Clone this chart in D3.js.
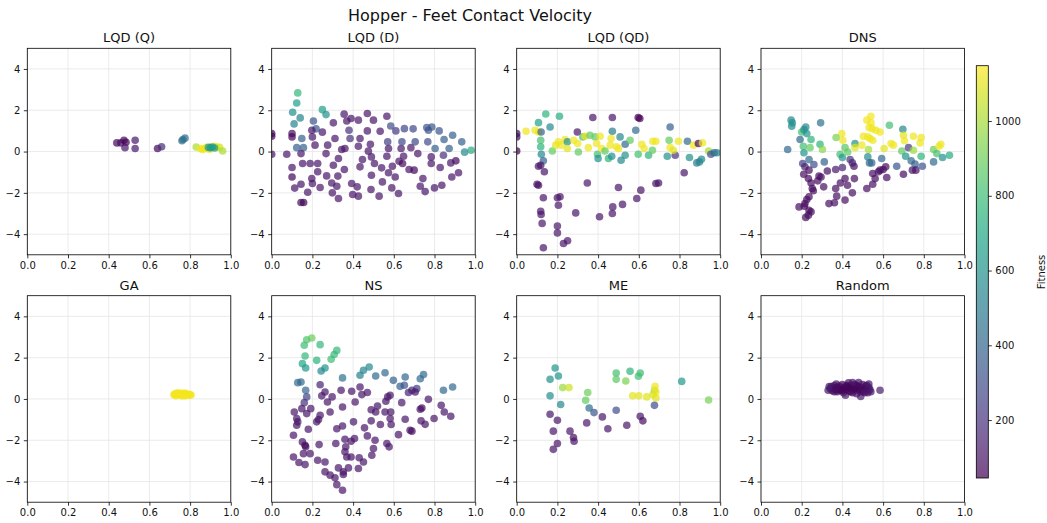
<!DOCTYPE html>
<html>
<head>
<meta charset="utf-8">
<script src="https://cdn.jsdelivr.net/npm/d3@7"></script>
<style>
  body { margin: 0; background: #fff; }
  text { font-family: "DejaVu Sans", sans-serif; fill: #111; }
</style>
</head>
<body>
<svg id="chart" width="1047" height="523"></svg>
<script>
// ---- data -------------------------------------------------------------
const chartTitle = "Hopper - Feet Contact Velocity";
const panelTitles = ["LQD (Q)", "LQD (D)", "LQD (QD)", "DNS", "GA", "NS", "ME", "Random"];
const xTicks = [0, 0.2, 0.4, 0.6, 0.8, 1.0];
const yTicks = [-4, -2, 0, 2, 4];
const cbTicks = [200, 400, 600, 800, 1000];
const fitnessRange = [45, 1148];
const colorbarLabel = "Fitness";

// each point: [feature 1, feature 2, fitness]
const lqdQ = [
  [0.44,0.42,60],[0.46,0.42,80],[0.475,0.55,60],[0.485,0.45,60],[0.48,0.19,120],[0.53,0.55,120],
  [0.53,0.15,120],[0.64,0.15,60],[0.66,0.23,180],[0.765,0.58,450],[0.775,0.65,450],[0.76,0.52,450],
  [0.83,0.22,1010],[0.85,0.15,1120],[0.87,0.13,1120],[0.88,0.2,1120],[0.9,0.22,1120],[0.92,0.26,1120],
  [0.93,0.22,1120],[0.945,0.2,1070],[0.96,0.03,1010],[0.86,0.1,1120],[0.895,0.1,1120],
  [0.89,0.2,650],[0.9,0.18,650],[0.91,0.22,650],[0.92,0.17,650]
];

const lqdD = [
  [0.0,0.87,60],[0.0,0.74,60],[0.0,-0.13,110],[0.074,-0.13,110],
  [0.128,2.84,780],[0.123,2.35,660],[0.103,1.9,580],[0.11,1.34,540],[0.14,1.63,540],
  [0.10,0.87,80],[0.10,0.71,60],[0.148,0.63,380],[0.123,0.19,380],[0.156,0.19,380],
  [0.10,-0.77,110],[0.10,-1.23,60],[0.113,-1.77,110],[0.144,-0.1,110],[0.152,-0.58,110],[0.144,-1.58,110],
  [0.144,-2.47,90],[0.157,-2.47,60],[0.177,-1.97,110],[0.189,-0.58,110],[0.197,-1.31,110],[0.2,-1.55,110],
  [0.205,1.48,330],[0.218,1.1,330],[0.197,1.03,110],[0.2,0.71,110],[0.213,0.31,110],[0.226,-0.58,110],
  [0.226,-0.98,110],[0.238,-1.74,110],[0.249,0.94,110],[0.249,2.03,660],[0.267,1.79,600],[0.275,0.31,110],
  [0.267,-0.1,110],[0.27,-1.18,110],[0.303,1.39,110],[0.311,0.63,110],[0.295,-1.52,110],[0.298,-2.0,110],
  [0.303,-0.66,110],[0.325,-1.19,110],[0.328,-0.34,110],[0.32,-1.68,110],[0.328,-2.27,110],[0.344,0.1,110],
  [0.357,-0.87,110],[0.356,1.81,110],[0.369,1.48,110],[0.36,0.15,110],[0.38,1.03,200],[0.39,1.6,110],
  [0.385,0.63,200],[0.393,-1.55,110],[0.398,-2.08,110],[0.42,-1.71,110],[0.426,1.52,110],[0.426,0.26,110],
  [0.426,-2.16,110],[0.434,-0.74,110],[0.434,0.63,110],[0.446,-0.39,110],[0.47,1.0,110],[0.47,1.84,110],
  [0.475,0.02,110],[0.485,0.35,110],[0.49,-0.26,110],[0.49,-1.15,110],[0.488,-1.84,110],[0.5,1.52,110],
  [0.505,-0.58,110],[0.533,0.98,110],[0.54,-0.79,110],[0.544,-1.47,110],[0.528,-2.16,110],[0.566,1.71,110],
  [0.57,0.47,250],[0.574,0.15,110],[0.566,-0.23,110],[0.574,-1.03,110],[0.585,1.24,300],[0.593,-0.71,110],
  [0.59,-1.76,110],[0.61,1.0,220],[0.607,-1.23,110],[0.626,-0.47,110],[0.623,-2.03,110],[0.636,0.15,110],
  [0.64,0.47,280],[0.648,-0.23,110],[0.643,-0.58,80],[0.652,1.11,280],[0.675,-0.87,110],[0.684,0.19,110],
  [0.695,1.1,280],[0.7,-0.9,60],[0.705,0.47,280],[0.718,-0.1,110],[0.73,-1.68,110],[0.743,-1.31,110],
  [0.754,-1.94,110],[0.762,1.16,330],[0.77,1.03,330],[0.767,0.47,300],[0.784,-0.26,110],[0.784,-0.58,110],
  [0.787,1.19,330],[0.803,0.15,380],[0.8,-1.76,110],[0.823,1.0,330],[0.828,-0.77,110],[0.836,-1.63,110],
  [0.844,-0.18,200],[0.847,0.58,380],[0.872,0.15,380],[0.88,-0.55,110],[0.885,-1.23,110],[0.889,0.79,380],
  [0.905,-0.45,60],[0.918,-1.03,110],[0.934,0.47,380],[0.948,-0.03,560],[0.98,0.06,720]
];

const lqdQD = [
  [0,0.87,90],[0,0.71,90],[0,0.03,50],[0.046,0.98,1120],[0.107,0.95,1120],[0.09,1.03,1120],
  [0.107,1.4,680],[0.143,1.82,760],[0.164,1.19,560],[0.118,0.55,820],[0.118,0.23,760],[0.121,-0.13,560],
  [0.131,-0.45,380],[0.12,0.95,380],[0.107,-0.71,110],[0.118,-0.66,110],[0.136,-0.98,110],[0.10,-1.58,110],
  [0.107,-1.63,80],[0.131,-2.24,110],[0.118,-2.89,110],[0.12,-3.05,110],[0.125,-3.48,110],[0.131,-4.66,110],
  [0.175,0.03,880],[0.192,0.31,1100],[0.205,0.47,1120],[0.21,1.71,720],[0.218,0.31,1120],[0.238,0.58,1120],
  [0.249,0.47,600],[0.249,0.15,1100],[0.2,-2.24,110],[0.213,-2.19,110],[0.205,-2.6,110],[0.2,-3.61,110],
  [0.2,-3.94,110],[0.23,-4.45,110],[0.25,-4.32,110],[0.29,-2.97,110],[0.298,0.95,110],[0.303,-0.02,880],
  [0.28,0.55,1120],[0.3,0.39,1120],[0.325,0.71,820],[0.336,0.74,1120],[0.352,0.19,1120],[0.347,-1.52,110],
  [0.36,0.79,880],[0.374,1.65,110],[0.385,0.71,880],[0.393,0.39,1120],[0.397,-0.13,820],[0.4,-0.34,600],
  [0.41,0.74,1120],[0.407,-3.16,110],[0.418,0.15,1120],[0.434,0.03,880],[0.451,-0.34,760],[0.459,0.31,1120],
  [0.47,1.65,110],[0.47,0.98,500],[0.464,0.63,1120],[0.467,-0.23,600],[0.472,-2.68,110],[0.47,-3.0,110],
  [0.49,0.23,1120],[0.5,0.15,1120],[0.5,-1.74,110],[0.508,0.71,560],[0.513,-0.42,560],[0.52,-2.56,110],
  [0.533,0.35,420],[0.533,-0.18,620],[0.557,0.55,880],[0.585,1.03,420],[0.59,-2.27,110],[0.597,-0.13,820],
  [0.61,-1.87,110],[0.597,1.65,50],[0.605,1.6,50],[0.615,0.35,1120],[0.626,0.15,1120],[0.648,-0.18,760],
  [0.669,0.5,1120],[0.684,0.5,1120],[0.667,0.06,880],[0.684,-1.55,110],[0.697,-1.52,110],[0.74,-0.23,600],
  [0.749,0.55,880],[0.754,0.19,1120],[0.754,1.19,380],[0.779,-0.18,200],[0.77,0.06,1100],[0.795,0.5,1120],
  [0.823,-1.03,110],[0.839,0.5,420],[0.849,-0.29,600],[0.869,0.31,1120],[0.885,-0.55,500],[0.893,0.39,60],
  [0.898,-0.5,540],[0.908,-0.37,560],[0.913,0.42,1120],[0.943,0.03,1000],[0.954,-0.13,300],[0.97,-0.06,380],
  [0.984,-0.06,520]
];

const dns = [
  [0.131,0.1,420],[0.148,1.52,560],[0.151,1.23,560],[0.154,1.39,600],[0.192,0.58,420],[0.2,0.95,820],
  [0.211,1.06,600],[0.22,1.19,560],[0.225,0.87,620],[0.208,0.26,820],[0.211,-0.06,620],[0.236,-0.39,420],
  [0.246,0.58,760],[0.241,0.19,880],[0.293,1.39,450],[0.29,0.35,760],[0.302,0.1,950],[0.205,-0.58,260],
  [0.216,-0.74,150],[0.26,-0.63,300],[0.311,-0.5,380],
  [0.21,-1.1,90],[0.236,-0.9,90],[0.233,-1.31,80],[0.246,-1.52,80],[0.252,-1.79,80],[0.257,-1.9,80],
  [0.236,-2.19,80],[0.225,-2.32,80],[0.216,-2.52,80],[0.187,-2.68,80],[0.213,-2.65,80],[0.236,-2.84,80],
  [0.246,-2.92,80],[0.22,-3.19,80],[0.233,-3.08,80],[0.285,-1.19,90],[0.295,-1.23,90],[0.279,-1.42,90],
  [0.308,-1.71,90],[0.326,-0.94,90],[0.334,-2.52,90],[0.361,-2.48,90],[0.367,-1.79,90],[0.372,-2.16,90],
  [0.367,-0.87,120],[0.39,-1.52,90],[0.4,-0.77,150],[0.413,-2.35,90],[0.413,-1.31,90],[0.425,-1.63,90],
  [0.438,-0.39,200],[0.449,-0.55,150],[0.457,-0.71,90],[0.459,-1.31,90],[0.449,-2.0,90],
  [0.389,-0.13,820],[0.4,-0.29,640],[0.413,0.19,860],[0.397,0.87,1120],[0.402,0.55,1120],[0.369,0.68,920],
  [0.426,-0.02,880],[0.462,0.39,600],[0.462,0.19,1100],[0.495,0.31,1120],[0.503,0.74,1120],[0.52,1.52,1130],
  [0.531,1.16,1120],[0.525,0.71,1120],[0.536,0.63,1120],[0.54,1.71,1130],[0.541,1.39,1130],[0.546,1.11,1120],
  [0.549,0.55,1120],[0.564,1.03,1120],[0.585,0.95,1120],[0.528,0.1,1000],[0.525,-0.26,560],[0.533,-0.55,420],
  [0.544,-0.55,420],[0.52,-1.79,90],[0.549,-1.58,90],[0.549,-1.06,90],[0.561,-1.31,90],[0.577,-0.98,90],
  [0.585,-0.9,90],[0.593,-0.34,420],[0.6,-0.87,90],[0.613,-0.74,90],[0.618,-1.26,90],[0.605,0.15,1100],
  [0.631,1.27,820],[0.639,0.39,1120],[0.651,0.31,1120],[0.667,-0.71,330],[0.692,0.03,880],[0.697,1.08,560],
  [0.7,0.79,1100],[0.705,0.52,1120],[0.711,-0.23,620],[0.7,-1.1,80],[0.725,0.19,220],[0.738,-0.45,420],
  [0.744,-0.9,120],[0.749,0.74,1120],[0.749,0.06,980],[0.757,-0.61,380],[0.761,-0.9,90],[0.782,0.42,1120],
  [0.787,0.68,1120],[0.787,-0.23,760],[0.793,-0.71,330],[0.848,-0.5,420],[0.848,0.1,900],[0.864,-0.1,820],
  [0.875,0.26,1120],[0.884,0.35,1120],[0.892,-0.29,600],[0.926,-0.18,720]
];

const ga = [
  [0.72,0.2,1130],[0.725,0.25,1130],[0.73,0.15,1130],[0.735,0.28,1130],[0.74,0.2,1130],[0.745,0.22,1130],
  [0.75,0.25,1130],[0.755,0.18,1130],[0.76,0.27,1130],[0.765,0.2,1130],[0.77,0.22,1130],[0.775,0.15,1130],
  [0.78,0.25,1130],[0.785,0.2,1130],[0.79,0.18,1130],[0.795,0.22,1130],[0.80,0.2,1130],[0.805,0.19,1130],
  [0.73,0.22,1130],[0.76,0.15,1130],[0.745,0.29,1130],[0.775,0.28,1130]
];

const ns = [
  [0.197,2.95,900],[0.172,2.87,840],[0.16,2.6,800],[0.238,2.63,780],[0.164,2.08,780],[0.151,1.71,700],
  [0.167,1.5,640],[0.221,1.87,760],[0.292,1.92,800],[0.32,2.35,780],[0.307,2.15,780],[0.262,1.5,600],
  [0.243,1.35,560],[0.348,1.02,450],[0.434,1.15,520],[0.451,1.39,540],[0.479,1.55,560],[0.511,1.11,420],
  [0.557,1.27,420],[0.598,0.9,380],[0.631,0.61,380],[0.652,0.66,330],[0.656,1.06,400],[0.672,0.31,150],
  [0.689,0.42,150],[0.713,0.5,250],[0.73,0.98,420],[0.746,1.18,420],[0.77,-0.02,110],[0.844,0.42,420],
  [0.889,0.58,420],[0.128,0.79,420],[0.144,0.82,420],[0.167,0.42,400],[0.172,0.1,260],[0.16,-0.18,200],
  [0.238,0.69,150],[0.262,0.34,110],[0.246,0.15,110],[0.274,-0.15,110],[0.297,0.1,110],[0.287,-0.63,110],
  [0.341,0.42,110],[0.348,-0.39,110],[0.393,0.37,110],[0.41,-0.15,110],[0.434,0.58,110],[0.443,0.21,110],
  [0.47,0.31,110],[0.111,-0.63,110],[0.123,-0.95,110],[0.128,-1.11,110],[0.123,-1.27,110],[0.107,-1.76,110],
  [0.148,-0.47,110],[0.172,-0.71,110],[0.192,-0.47,110],[0.18,-1.47,110],[0.221,-1.11,110],[0.23,-1.0,110],
  [0.238,-0.79,110],[0.233,-2.21,110],[0.151,-2.08,110],[0.164,-2.24,80],[0.167,-2.32,80],[0.156,-2.65,110],
  [0.189,-2.65,110],[0.107,-2.81,110],[0.134,-3.08,110],[0.164,-3.18,110],[0.226,-2.97,110],[0.262,-3.05,110],
  [0.262,-3.53,110],[0.287,-3.69,110],[0.311,-3.82,110],[0.32,-4.15,110],[0.348,-4.42,110],[0.352,-3.66,110],
  [0.328,-3.34,110],[0.377,-3.34,110],[0.352,-3.53,110],[0.315,-2.16,110],[0.32,-1.44,110],[0.348,-1.31,110],
  [0.36,-1.95,110],[0.364,-2.32,110],[0.36,-2.56,110],[0.369,-2.81,110],[0.39,-2.81,110],[0.39,-2.05,110],
  [0.407,-1.92,110],[0.402,-1.11,110],[0.426,-3.37,110],[0.43,-2.85,110],[0.451,-3.05,110],[0.456,-1.4,110],
  [0.47,-1.79,110],[0.489,-1.06,110],[0.489,-0.52,110],[0.5,-2.4,110],[0.508,-2.0,110],[0.492,-2.73,110],
  [0.52,-0.34,110],[0.511,-0.63,110],[0.534,-1.24,110],[0.557,-0.63,110],[0.561,-0.11,110],[0.57,0.1,110],
  [0.582,0.18,110],[0.585,-0.63,110],[0.582,-0.95,110],[0.587,-1.24,110],[0.566,-2.16,110],[0.577,-2.32,110],
  [0.639,-0.18,110],[0.656,-0.98,110],[0.623,-1.73,110],[0.68,-1.52,110],[0.689,-1.56,80],[0.705,0.34,110],
  [0.73,-0.5,110],[0.738,-0.44,80],[0.734,-1.06,110],[0.754,-1.23,110],[0.798,-0.95,110],[0.833,-0.31,110],
  [0.848,-0.63,110],[0.88,-0.84,110]
];

const me = [
  [0.189,1.5,620],[0.164,0.95,600],[0.205,1.11,620],[0.164,0.15,580],[0.226,0.55,980],[0.257,0.55,1060],
  [0.216,-0.27,560],[0.349,0.31,900],[0.339,-0.06,880],[0.356,-0.44,440],[0.38,-0.66,330],[0.489,1.26,820],
  [0.489,0.95,860],[0.536,0.87,920],[0.557,1.34,760],[0.598,1.1,820],[0.607,1.26,800],[0.57,0.15,1100],
  [0.6,0.15,1100],[0.639,0.1,1100],[0.669,0.21,1080],[0.677,0.42,1000],[0.68,0.61,1120],[0.684,0.34,1120],
  [0.684,0.05,1100],[0.677,-0.31,300],[0.811,0.85,640],[0.943,-0.05,920],[0.164,-0.74,110],[0.2,-1.03,110],
  [0.18,-1.56,110],[0.18,-2.44,110],[0.2,-2.16,110],[0.262,-1.56,110],[0.279,-1.87,90],[0.282,-2.05,110],
  [0.344,-1.16,110],[0.421,-0.87,110],[0.448,-1.44,110],[0.489,-0.55,300],[0.541,-1.27,110],[0.607,-0.84,110],
  [0.62,-1.06,80]
];

const random = [
  [0.34,0.5,90],[0.345,0.6,110],[0.35,0.4,90],[0.355,0.55,80],[0.36,0.65,110],[0.365,0.45,70],
  [0.37,0.72,120],[0.375,0.35,90],[0.38,0.55,70],[0.385,0.62,80],[0.39,0.42,70],[0.395,0.5,60],
  [0.40,0.7,90],[0.405,0.3,100],[0.41,0.55,70],[0.415,0.18,120],[0.42,0.45,60],[0.425,0.62,80],
  [0.43,0.78,100],[0.435,0.38,70],[0.44,0.5,60],[0.445,0.65,70],[0.45,0.3,90],[0.455,0.55,60],
  [0.46,0.7,80],[0.465,0.42,70],[0.47,0.25,110],[0.475,0.6,60],[0.48,0.8,100],[0.485,0.45,60],
  [0.49,0.12,130],[0.495,0.55,70],[0.50,0.7,90],[0.505,0.35,80],[0.51,0.5,70],[0.515,0.62,90],
  [0.52,0.42,80],[0.525,0.3,110],[0.53,0.55,90],[0.535,0.45,100],[0.54,0.35,120],[0.33,0.42,120],
  [0.335,0.6,130],[0.36,0.35,100],[0.38,0.45,70],[0.40,0.4,60],[0.42,0.65,70],[0.44,0.35,80],
  [0.46,0.5,60],[0.47,0.65,70],[0.49,0.35,80],[0.50,0.45,70],[0.52,0.65,90],[0.585,0.42,130],
  [0.45,0.8,110],[0.43,0.55,60],[0.37,0.55,80],[0.51,0.3,110],[0.53,0.72,120]
];

const panelData = [lqdQ, lqdD, lqdQD, dns, ga, ns, me, random];

// ---- layout -----------------------------------------------------------
const colLeft = [27.3, 271.7, 516.7, 761.0];
const rowTop = [48.3, 295.7];
const pw = 203.5, ph = 206.5;
const pointR = 3.8, pointAlpha = 0.7;

const svg = d3.select("#chart");
const color = d3.scaleSequential(d3.interpolateViridis).domain(fitnessRange);
const defs = svg.append("defs");

svg.append("text")
  .attr("x", 470).attr("y", 21)
  .attr("text-anchor", "middle")
  .style("font-size", "16px")
  .text(chartTitle);

panelData.forEach((pts, i) => {
  const x0 = colLeft[i % 4], y0 = rowTop[Math.floor(i / 4)];
  const x = d3.scaleLinear().domain([0, 1]).range([x0, x0 + pw]);
  const y = d3.scaleLinear().domain([-5, 5]).range([y0 + ph, y0]);
  const g = svg.append("g");

  // grid
  g.append("g").selectAll("line").data(xTicks).join("line")
    .attr("x1", d => x(d)).attr("x2", d => x(d))
    .attr("y1", y0).attr("y2", y0 + ph)
    .attr("stroke", "#e6e6e6").attr("stroke-width", 0.8);
  g.append("g").selectAll("line").data(yTicks).join("line")
    .attr("x1", x0).attr("x2", x0 + pw)
    .attr("y1", d => y(d)).attr("y2", d => y(d))
    .attr("stroke", "#e6e6e6").attr("stroke-width", 0.8);

  // points, clipped to the plotting area
  const clipId = "clip" + i;
  defs.append("clipPath").attr("id", clipId)
    .append("rect").attr("x", x0).attr("y", y0).attr("width", pw).attr("height", ph);
  g.append("g").attr("clip-path", `url(#${clipId})`)
    .selectAll("circle").data(pts).join("circle")
    .attr("cx", d => x(d[0])).attr("cy", d => y(d[1]))
    .attr("r", pointR)
    .attr("fill", d => color(d[2]))
    .attr("fill-opacity", pointAlpha);

  // axes
  const xAxis = g.append("g").attr("transform", `translate(0,${y0 + ph})`)
    .call(d3.axisBottom(x).tickValues(xTicks).tickFormat(d3.format(".1f")).tickSize(3.5).tickPadding(3.5));
  const yAxis = g.append("g").attr("transform", `translate(${x0},0)`)
    .call(d3.axisLeft(y).tickValues(yTicks).tickFormat(d3.format("d")).tickSize(3.5).tickPadding(3.5));
  [xAxis, yAxis].forEach(a => {
    a.select(".domain").remove();
    a.selectAll(".tick line").attr("stroke", "#000").attr("stroke-width", 0.8);
    a.selectAll(".tick text").style("font-size", "10px").style("font-family", "DejaVu Sans, sans-serif").attr("fill", "#111");
  });

  // frame
  g.append("rect")
    .attr("x", x0).attr("y", y0).attr("width", pw).attr("height", ph)
    .attr("fill", "none").attr("stroke", "#000").attr("stroke-width", 0.8);

  g.append("text")
    .attr("x", x0 + pw / 2).attr("y", y0 - 6)
    .attr("text-anchor", "middle")
    .style("font-size", "13px")
    .text(panelTitles[i]);
});

// ---- colorbar ---------------------------------------------------------
const cbX = 976.3, cbW = 12, cbTop = 65.7, cbBottom = 478;
const cbScale = d3.scaleLinear().domain(fitnessRange).range([cbBottom, cbTop]);
const grad = defs.append("linearGradient").attr("id", "cbgrad")
  .attr("x1", 0).attr("y1", 1).attr("x2", 0).attr("y2", 0);
d3.range(0, 1.0001, 0.05).forEach(t => {
  grad.append("stop").attr("offset", t).attr("stop-color", d3.interpolateViridis(t));
});
svg.append("rect")
  .attr("x", cbX).attr("y", cbTop).attr("width", cbW).attr("height", cbBottom - cbTop)
  .attr("fill", "url(#cbgrad)").attr("fill-opacity", pointAlpha);
svg.append("rect")
  .attr("x", cbX).attr("y", cbTop).attr("width", cbW).attr("height", cbBottom - cbTop)
  .attr("fill", "none").attr("stroke", "#000").attr("stroke-width", 0.8);
const cbAxis = svg.append("g").attr("transform", `translate(${cbX + cbW},0)`)
  .call(d3.axisRight(cbScale).tickValues(cbTicks).tickFormat(d3.format("d")).tickSize(3.5).tickPadding(3.5));
cbAxis.select(".domain").remove();
cbAxis.selectAll(".tick line").attr("stroke", "#000").attr("stroke-width", 0.8);
cbAxis.selectAll(".tick text").style("font-size", "10px").style("font-family", "DejaVu Sans, sans-serif").attr("fill", "#111");

svg.append("text")
  .attr("transform", "translate(1045,272) rotate(-90)")
  .attr("text-anchor", "middle")
  .style("font-size", "10px")
  .text(colorbarLabel);
</script>
</body>
</html>
